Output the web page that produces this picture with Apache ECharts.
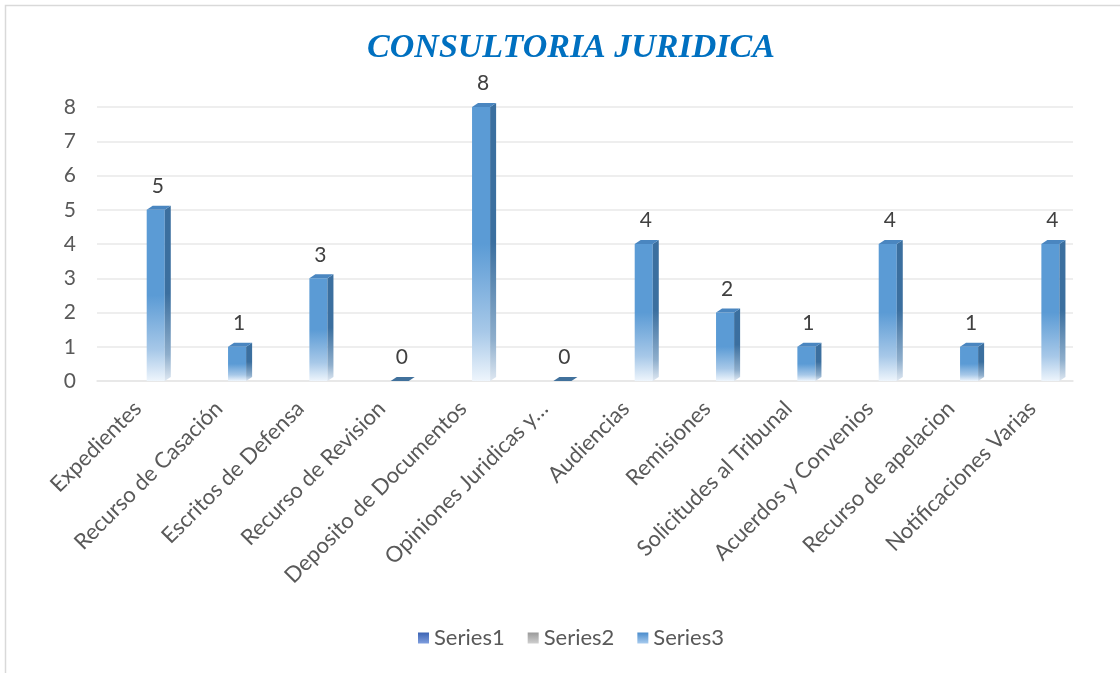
<!DOCTYPE html>
<html>
<head>
<meta charset="utf-8">
<script src="https://cdn.jsdelivr.net/npm/echarts@6/dist/echarts.min.js"></script>
<style>
  html, body { margin: 0; padding: 0; background: #fff; }
  #chart { width: 1120px; height: 673px; }
</style>
</head>
<body>
<div id="chart"></div>
<script>
const categories = [
  "Expedientes",
  "Recurso de Casación",
  "Escritos de Defensa",
  "Recurso de Revision",
  "Deposito de Documentos",
  "Opiniones Juridicas y…",
  "Audiencias",
  "Remisiones",
  "Solicitudes al Tribunal",
  "Acuerdos y Convenios",
  "Recurso de apelacion",
  "Notificaciones Varias",
];
const series1Values = [];
const series2Values = [];
const series3Values = [5, 1, 3, 0, 8, 0, 4, 2, 1, 4, 1, 4];
const yTicks = [0, 1, 2, 3, 4, 5, 6, 7, 8];

const FONT = "Lato, 'Open Sans', sans-serif";
const DEPTH_X = 6;
const DEPTH_Y = 4;

const chart = echarts.init(document.getElementById("chart"));

function grad(stops) {
  return new echarts.graphic.LinearGradient(0, 0, 0, 1, stops);
}

function render3dBar(params, api) {
  const idx = api.value(0);
  const v = api.value(1);
  const base = api.coord([idx, 0]);
  const top = api.coord([idx, v]);
  const band = api.size([1, 0])[0];
  const w = band / 4.5;
  // Series3 is the third bar of the cluster
  const x0 = base[0] + w / 2;
  const x1 = x0 + w;
  const yTop = top[1];
  const yBase = base[1];
  const children = [];

  if (yBase - yTop > 0.5) {
    children.push({
      type: "rect",
      shape: { x: x0, y: yTop, width: w, height: yBase - yTop },
      style: {
        fill: grad([
          { offset: 0, color: "#5b9bd5" },
          { offset: 0.5, color: "#5b9bd5" },
          { offset: 0.82, color: "#a7c8e8" },
          { offset: 1, color: "#eef5fc" },
        ]),
      },
    });
    children.push({
      type: "polygon",
      shape: {
        points: [
          [x1, yTop],
          [x1 + DEPTH_X, yTop - DEPTH_Y],
          [x1 + DEPTH_X, yBase - DEPTH_Y],
          [x1, yBase],
        ],
      },
      style: {
        fill: grad([
          { offset: 0, color: "#3b6f9f" },
          { offset: 0.5, color: "#3b6f9f" },
          { offset: 0.85, color: "#8eaecc" },
          { offset: 1, color: "#dfe8f2" },
        ]),
      },
    });
  }
  children.push({
    type: "polygon",
    shape: {
      points: [
        [x0, yTop],
        [x0 + DEPTH_X, yTop - DEPTH_Y],
        [x1 + DEPTH_X, yTop - DEPTH_Y],
        [x1, yTop],
      ],
    },
    style: { fill: v > 0 ? "#4a86c0" : "#41719c" },
  });
  children.push({
    type: "text",
    style: {
      text: String(v),
      x: (x0 + x1) / 2 + 2,
      y: yTop - 13,
      align: "center",
      verticalAlign: "bottom",
      fontSize: 21,
      fontFamily: FONT,
      fill: "#404040",
    },
  });
  return { type: "group", children: children };
}

chart.setOption({
  animation: false,
  backgroundColor: "#fff",
  title: {
    text: "CONSULTORIA JURIDICA",
    left: 566,
    textAlign: "center",
    top: 26,
    textStyle: {
      fontFamily: "'Liberation Serif', serif",
      fontStyle: "italic",
      fontWeight: "bold",
      fontSize: 34,
      color: "#0070c0",
    },
  },
  graphic: [
    {
      type: "rect",
      shape: { x: 5.5, y: 5.5, width: 1300, height: 900 },
      style: { fill: null, stroke: "#d9d9d9", lineWidth: 1.5 },
      silent: true,
    },
  ],
  legend: {
    top: 622,
    left: 413,
    itemWidth: 11,
    itemHeight: 11,
    itemGap: 23,
    icon: "rect",
    textStyle: { fontFamily: FONT, fontSize: 22, color: "#595959" },
    data: [
      { name: "Series1", itemStyle: { color: grad([{ offset: 0, color: "#3c64b4" }, { offset: 1, color: "#7f9ede" }]) } },
      { name: "Series2", itemStyle: { color: grad([{ offset: 0, color: "#9a9a9a" }, { offset: 1, color: "#cfcfcf" }]) } },
      { name: "Series3", itemStyle: { color: grad([{ offset: 0, color: "#4a8ccc" }, { offset: 1, color: "#a8cbee" }]) } },
    ],
  },
  grid: { left: 97, right: 47, top: 107, bottom: 292, containLabel: false },
  xAxis: {
    type: "category",
    data: categories,
    axisLine: { lineStyle: { color: "#e6e6e6", width: 1.5 } },
    axisTick: { show: false },
    axisLabel: {
      rotate: 45,
      interval: 0,
      margin: 24,
      fontFamily: FONT,
      fontSize: 22,
      color: "#595959",
    },
  },
  yAxis: {
    type: "value",
    min: yTicks[0],
    max: yTicks[yTicks.length - 1],
    interval: 1,
    axisLine: { show: false },
    axisTick: { show: false },
    splitLine: { lineStyle: { color: "#e9e9e9", width: 1.5 } },
    axisLabel: {
      margin: 21,
      fontFamily: FONT,
      fontSize: 21,
      color: "#595959",
    },
  },
  series: [
    { name: "Series1", type: "bar", data: series1Values },
    { name: "Series2", type: "bar", data: series2Values },
    {
      name: "Series3",
      type: "custom",
      renderItem: render3dBar,
      encode: { x: 0, y: 1 },
      data: series3Values.map((v, i) => [i, v]),
      z: 3,
    },
  ],
});

window.addEventListener("resize", () => chart.resize());
</script>
</body>
</html>
